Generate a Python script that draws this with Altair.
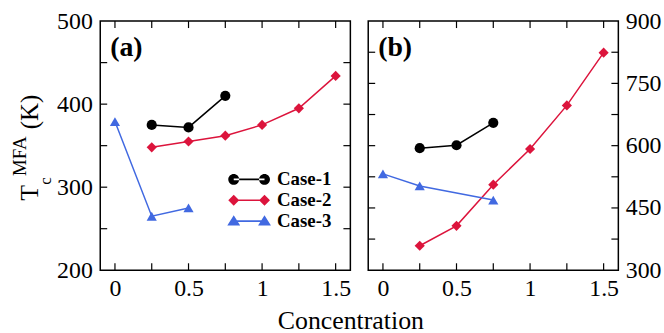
import altair as alt
import pandas as pd

# ---------------- data ----------------
cases = ["Case-1", "Case-2", "Case-3"]
colors = ["#000000", "#dc143c", "#4169e1"]

conc_case1 = [0.25, 0.5, 0.75]
conc_case2 = [0.25, 0.5, 0.75, 1.0, 1.25, 1.5]
conc_case3_a = [0.0, 0.25, 0.5]
conc_case3_b = [0.0, 0.25, 0.75]

tc_a_case1 = [375, 372, 410]
tc_a_case2 = [348, 355, 362, 375, 395, 434]
tc_a_case3 = [379, 265, 275]

tc_b_case1 = [594, 601, 655]
tc_b_case2 = [359, 407, 506, 592, 697, 824]
tc_b_case3 = [532, 503, 469]

x_tick_values = [0, 0.25, 0.5, 0.75, 1.0, 1.25, 1.5]
x_label_values = [0, 0.5, 1, 1.5]
y_tick_values_a = [250, 300, 350, 400, 450]
y_label_values_a = [200, 300, 400, 500]
y_tick_values_b = [375, 450, 525, 600, 675, 750, 825]
y_label_values_b = [300, 450, 600, 750, 900]

panel_labels = ["(a)", "(b)"]
ylabel_parts = ["T", "c", "MFA", "(K)"]
x_title = "Concentration"

# ---------------- helpers ----------------
FONT = "Liberation Serif"
W, H = 252, 251
TICK = 7


def make_df(c3x, v1, v2, v3):
    rows = []
    for x, v in zip(conc_case1, v1):
        rows.append({"Concentration": x, "Tc": v, "Case": cases[0]})
    for x, v in zip(conc_case2, v2):
        rows.append({"Concentration": x, "Tc": v, "Case": cases[1]})
    for x, v in zip(c3x, v3):
        rows.append({"Concentration": x, "Tc": v, "Case": cases[2]})
    return pd.DataFrame(rows)


df_a = make_df(conc_case3_a, tc_a_case1, tc_a_case2, tc_a_case3)
df_b = make_df(conc_case3_b, tc_b_case1, tc_b_case2, tc_b_case3)

xscale = alt.Scale(domain=[-0.1, 1.6], nice=False, zero=False)
cscale = alt.Scale(domain=cases, range=colors)
shape_scale = alt.Scale(domain=cases, range=["circle", "diamond", "triangle-up"])
x_axis = alt.Axis(values=x_label_values, format="~g", title=None,
                  labelFont=FONT, labelFontSize=24, labelPadding=6)

# legend symbols: line with a marker at each end (pixel units, symbolSize=4)
legend_paths = [
    "M -5.5,0 A 5.5,5.5 0 1,0 5.5,0 A 5.5,5.5 0 1,0 -5.5,0 Z "
    "M 25.5,0 A 5.5,5.5 0 1,0 36.5,0 A 5.5,5.5 0 1,0 25.5,0 Z "
    "M 0,-0.8 L 31,-0.8 L 31,0.8 L 0,0.8 Z",
    "M -5.5,0 L 0,-5.5 L 5.5,0 L 0,5.5 Z "
    "M 25.5,0 L 31,-5.5 L 36.5,0 L 31,5.5 Z "
    "M 0,-0.8 L 31,-0.8 L 31,0.8 L 0,0.8 Z",
    "M -6.5,4.5 L 0,-6 L 6.5,4.5 Z "
    "M 24.5,4.5 L 31,-6 L 37.5,4.5 Z "
    "M 0,-0.8 L 31,-0.8 L 31,0.8 L 0,0.8 Z",
]


def panel(df, ydom, ytick_vals, ylabel_vals, orient, label, with_legend):
    yscale = alt.Scale(domain=ydom, nice=False, zero=False)
    y_axis = alt.Axis(values=ylabel_vals, orient=orient, title=None,
                      labelFont=FONT, labelFontSize=24,
                      labelPadding=8 if orient == "left" else 7)
    base = alt.Chart(df)
    X = alt.X("Concentration:Q", scale=xscale, axis=x_axis)
    Y = alt.Y("Tc:Q", scale=yscale, axis=y_axis)
    lines = base.mark_line(strokeWidth=1.5).encode(
        x=X, y=Y, color=alt.Color("Case:N", scale=cscale, legend=None),
    )
    points = base.mark_point(filled=True, opacity=1, size=105).encode(
        x=X, y=Y,
        color=alt.Color("Case:N", scale=cscale, legend=None),
        shape=alt.Shape("Case:N", scale=shape_scale, legend=None),
    )
    xt = pd.DataFrame({"Concentration": x_tick_values})
    yt = pd.DataFrame({"Tc": ytick_vals})
    tick_style = dict(color="black", strokeWidth=1.2)
    xb = alt.Chart(xt).mark_rule(**tick_style).encode(
        x=X, y=alt.value(H), y2=alt.value(H - TICK))
    xtop = alt.Chart(xt).mark_rule(**tick_style).encode(
        x=X, y=alt.value(0), y2=alt.value(TICK))
    yl = alt.Chart(yt).mark_rule(**tick_style).encode(
        y=Y, x=alt.value(0), x2=alt.value(TICK))
    yr = alt.Chart(yt).mark_rule(**tick_style).encode(
        y=Y, x=alt.value(W), x2=alt.value(W - TICK))
    lab = alt.Chart(pd.DataFrame({"s": [label]})).mark_text(
        font=FONT, fontSize=28, fontWeight="bold", align="left",
        baseline="alphabetic", color="black",
    ).encode(text="s:N", x=alt.value(10), y=alt.value(35))

    layers = [lines, points, xb, xtop, yl, yr, lab]

    if with_legend:
        # y-axis title built from pieces (subscript / superscript)
        specs = [
            (ylabel_parts[0], 26, -63, 181),
            (ylabel_parts[1], 17, -50, 165),
            (ylabel_parts[2], 19, -75, 156),
            (ylabel_parts[3], 25, -63, 109),
        ]
        for txt, fs, xx, yy in specs:
            layers.append(
                alt.Chart(pd.DataFrame({"s": [txt]})).mark_text(
                    font=FONT, fontSize=fs, angle=270, align="left",
                    baseline="alphabetic", color="black",
                ).encode(text="s:N", x=alt.value(xx), y=alt.value(yy))
            )
        leg = alt.Legend(
            orient="none", legendX=125, legendY=150, title=None,
            labelFont=FONT, labelFontSize=19, labelFontWeight="bold",
            labelColor="black", symbolSize=4, symbolStrokeWidth=0,
            labelOffset=34, rowPadding=1, padding=0, symbolOpacity=1,
        )
        dummy = base.mark_point(filled=True, opacity=1, size=4).encode(
            x=X, y=Y,
            color=alt.Color("Case:N", scale=alt.Scale(domain=cases, range=colors), legend=leg),
            shape=alt.Shape("Case:N", scale=alt.Scale(domain=cases, range=legend_paths), legend=leg),
        ).transform_filter("datum.Tc < 0")
        layers.append(dummy)

    ch = alt.layer(*layers).resolve_scale(color="independent", shape="independent")
    return ch.properties(width=W, height=H)


pa = panel(df_a, [200, 500], y_tick_values_a, y_label_values_a, "left", panel_labels[0], True)
pb = panel(df_b, [300, 900], y_tick_values_b, y_label_values_b, "right", panel_labels[1], False)

chart = alt.hconcat(pa, pb, spacing=14).resolve_scale(
    color="independent", shape="independent"
).resolve_legend(color="independent", shape="independent").properties(
    title=alt.TitleParams(
        x_title, orient="bottom", anchor="middle", font=FONT, fontSize=26,
        fontWeight="normal", color="black", offset=7, dx=15,
    ),
    padding={"left": 10, "top": 7, "right": 2, "bottom": 0},
    background="white",
).configure_view(
    stroke="black", strokeWidth=1.5
).configure_axis(
    labelFont=FONT, labelFontSize=24, labelColor="black", ticks=False,
    domain=False, grid=False, labelFlush=False, labelOverlap=False,
)

chart.save("out.html", embed_options={"renderer": "svg", "actions": False})
